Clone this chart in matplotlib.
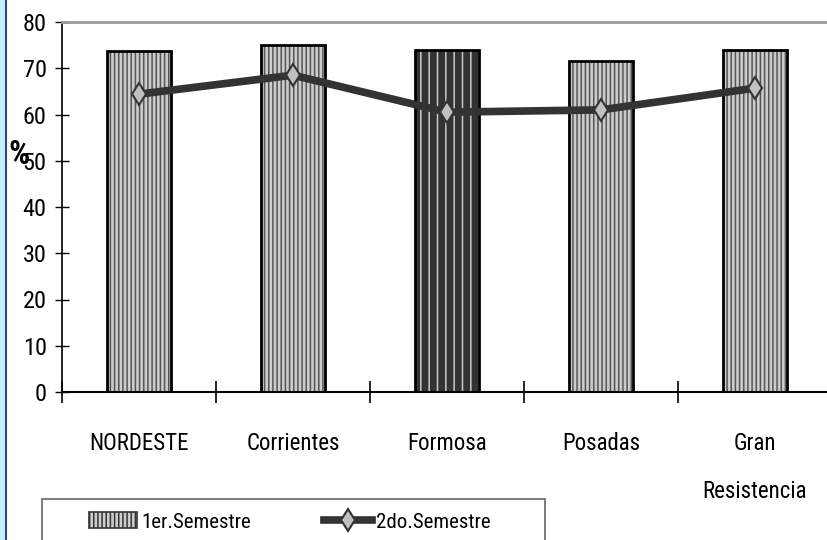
import matplotlib
matplotlib.use("Agg")
import matplotlib.pyplot as plt
from matplotlib.patches import Patch, Rectangle
from matplotlib.lines import Line2D
from matplotlib import font_manager
import numpy as np

# data
regiones = ["NORDESTE", "Corrientes", "Formosa", "Posadas", "Gran\nResistencia"]
sem1 = [73.7, 75.0, 73.9, 71.6, 73.9]
sem2 = [64.4, 68.5, 60.5, 61.0, 65.7]

# narrow font if there is one
nombres = set(f.name for f in font_manager.fontManager.ttflist)
familia = "DejaVu Sans"
for f in ["Liberation Sans Narrow", "Roboto Condensed", "Arial Narrow", "Roboto"]:
    if f in nombres:
        familia = f
        break
plt.rcParams['font.family'] = [familia, 'DejaVu Sans']
plt.rcParams['hatch.linewidth'] = 1.1

fig = plt.figure(figsize=(8.28, 5.4), dpi=100)
ax = fig.add_axes([62 / 828, 1 - 392 / 540, 770 / 828, 370 / 540])

x = np.arange(len(regiones))
w = 0.41
for i in range(len(regiones)):
    if regiones[i] == "Formosa":
        fc, hc, hatch = "#333333", "#c8c8c8", "||"
    else:
        fc, hc, hatch = "#cccccc", "#555555", "||||"
    ax.bar(x[i], sem1[i], w, color=fc, edgecolor=hc, hatch=hatch, linewidth=0, zorder=2)
    ax.bar(x[i], sem1[i], w, fill=False, edgecolor="black", linewidth=2, zorder=3)

ax.plot(x, sem2, color="#333333", lw=5.5, marker="d", ms=11.5, mfc="#c0c0c0",
        mec="#333333", mew=1.5, zorder=4)

ax.set_xlim(-0.5, 4.5)
ax.set_ylim(0, 80)
ax.set_yticks(range(0, 81, 10))
ax.tick_params(axis="y", direction="inout", length=10, width=1, pad=6, labelsize=17.5)
ax.set_xticks(x)
ax.set_xticklabels(regiones, linespacing=2.4)
ax.tick_params(axis="x", which="major", length=0, pad=29, labelsize=16.5)
ax.set_xticks(np.arange(-0.5, 4.5, 1), minor=True)
ax.tick_params(axis="x", which="minor", direction="inout", length=16, width=1.2)

ax.spines["right"].set_visible(False)
ax.spines["top"].set_color("#999999")
ax.spines["top"].set_linewidth(2)
ax.spines["left"].set_linewidth(1.2)
ax.spines["bottom"].set_linewidth(1.5)

fig.text(19 / 828, 1 - 155 / 540, "%", fontsize=24, fontweight="bold", ha="center", va="center")

# left border strip
fig.patches.append(Rectangle((0, 0), 5 / 828, 1, transform=fig.transFigure,
                             facecolor="#c8eefc", edgecolor="none"))
fig.patches.append(Rectangle((5 / 828, 0), 2 / 828, 1, transform=fig.transFigure,
                             facecolor="#2a4a6a", edgecolor="none"))

# legend frame, its bottom runs off the picture
fig.patches.append(Rectangle((42 / 828, -0.05), 503 / 828, 0.05 + 41 / 540,
                             transform=fig.transFigure, facecolor="white",
                             edgecolor="#666666", linewidth=1.2))
handles = [Patch(facecolor="#cccccc", edgecolor="#333333", hatch="||||", linewidth=1.2),
           Line2D([], [], color="#333333", lw=5.5, marker="d", ms=11.5, mfc="#c0c0c0",
                  mec="#333333", mew=1.5)]
leg = fig.legend(handles, ["1er.Semestre", "2do.Semestre"], loc="center left",
                 bbox_to_anchor=(89 / 828, 1 - 522 / 540), ncol=2, frameon=False,
                 fontsize=15, handlelength=2.3, handleheight=0.8, handletextpad=0.2,
                 columnspacing=3.5, borderaxespad=0, borderpad=0)

fig.savefig("out.png", dpi=100)
